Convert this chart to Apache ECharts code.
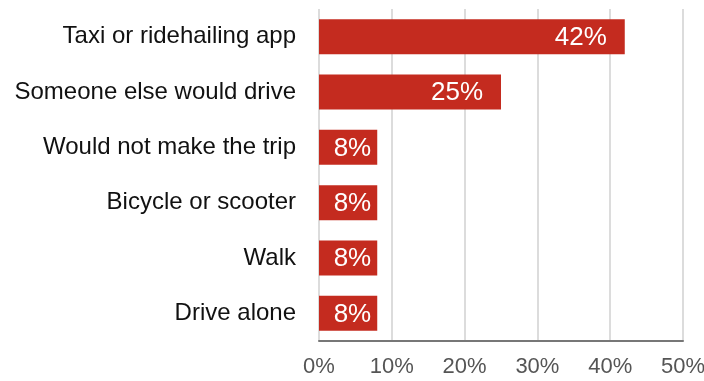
<!DOCTYPE html>
<html>
<head>
<meta charset="utf-8">
<script src="https://cdn.jsdelivr.net/npm/echarts@6/dist/echarts.min.js"></script>
<style>
  html, body { margin: 0; padding: 0; background: #fff; }
  #chart { width: 704px; height: 381px; }
</style>
</head>
<body>
<div id="chart"></div>
<script>
// Modes listed top to bottom
const categories = [
  'Taxi or ridehailing app',
  'Someone else would drive',
  'Would not make the trip',
  'Bicycle or scooter',
  'Walk',
  'Drive alone'
];
// Share of respondents (%)
const shares = [42, 25, 8, 8, 8, 8];
const tickLabels = ['0%', '10%', '20%', '30%', '40%', '50%'];

const font = '"Liberation Sans", Arial, Helvetica, sans-serif';
const chart = echarts.init(document.getElementById('chart'));
chart.setOption({
  animation: false,
  grid: { left: 319, right: 21, top: 9, bottom: 40, outerBoundsMode: 'none', containLabel: false },
  xAxis: {
    type: 'value',
    min: 0,
    max: 50,
    interval: 10,
    axisLine: { show: true, lineStyle: { color: '#777', width: 2 } },
    axisTick: { show: false },
    splitLine: { lineStyle: { color: '#dcdcdc', width: 2 } },
    axisLabel: {
      color: '#555',
      fontFamily: font,
      fontSize: 22,
      margin: 15,
      formatter: (v) => tickLabels[Math.round(v / 10)]
    }
  },
  yAxis: {
    type: 'category',
    inverse: true,
    data: categories,
    axisLine: { show: false },
    axisTick: { show: false },
    axisLabel: { color: '#111', fontFamily: font, fontSize: 24, margin: 23 }
  },
  series: [{
    type: 'bar',
    // short bars keep their label close to the bar end
    data: shares.map((v) => ({
      value: v,
      label: { offset: [v < 10 ? -1 : -13, 1] }
    })),
    barWidth: 35,
    itemStyle: { color: '#c42b1f' },
    label: {
      show: true,
      position: 'insideRight',
      color: '#fff',
      fontFamily: font,
      fontSize: 26,
      formatter: (p) => p.value + '%'
    }
  }]
});
</script>
</body>
</html>
